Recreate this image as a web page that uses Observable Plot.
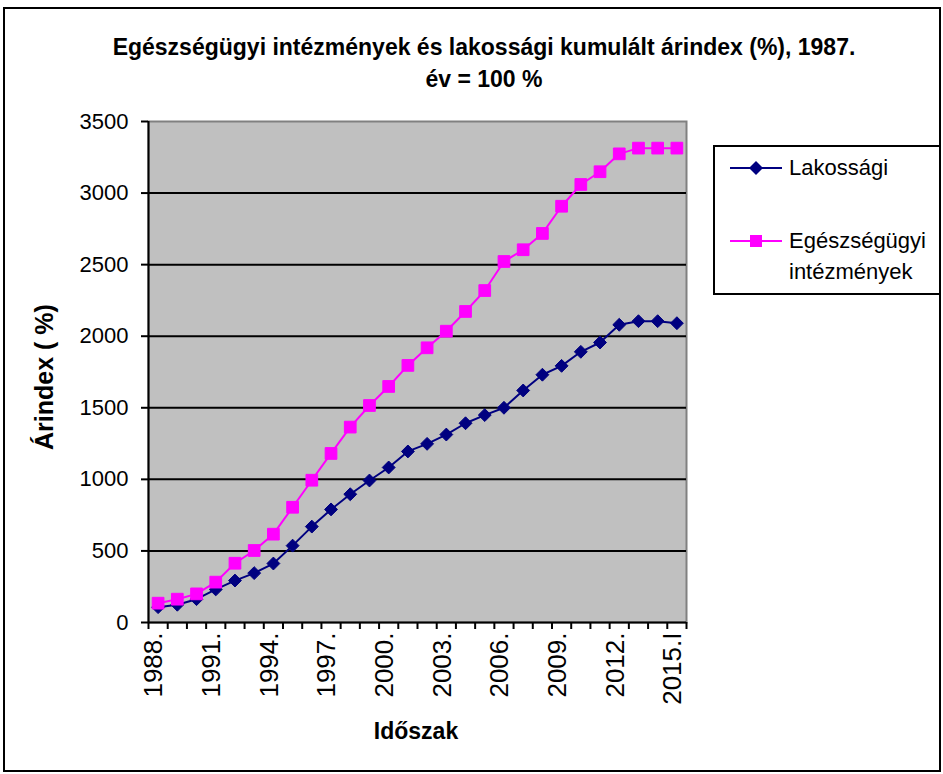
<!DOCTYPE html>
<html><head><meta charset="utf-8">
<script src="https://cdn.jsdelivr.net/npm/d3@7"></script>
<script src="https://cdn.jsdelivr.net/npm/@observablehq/plot@0.6"></script>
<style>
body{margin:0;background:#fff;font-family:"Liberation Sans",Arial,sans-serif;}
#wrap{position:relative;width:943px;height:774px;overflow:hidden;background:#fff}
#border{position:absolute;left:3px;top:7px;width:934px;height:761px;border:2px solid #000;box-sizing:content-box}
#chart{position:absolute;left:0;top:0}
#title{position:absolute;left:0;top:31px;width:968px;text-align:center;font-weight:bold;font-size:23px;line-height:32px;color:#000}
#ylab{position:absolute;left:44px;top:377px;transform:translate(-50%,-50%) rotate(-90deg);font-weight:bold;font-size:25px;white-space:nowrap}
#xlab{position:absolute;left:416px;top:731px;transform:translate(-50%,-50%);font-weight:bold;font-size:23px;white-space:nowrap}
#legend{position:absolute;left:713px;top:145px;width:224px;height:146px;border:2px solid #000;background:#fff}
.lg{position:absolute;left:0;font-size:22px;line-height:31px;white-space:nowrap}
</style></head><body>
<div id="wrap">
  <div id="border"></div>
  <div id="chart"></div>
  <div id="title">Egészségügyi intézmények és lakossági kumulált árindex (%), 1987.<br>év = 100 %</div>
  <div id="ylab">Árindex ( %)</div>
  <div id="xlab">Időszak</div>
  <div id="legend"></div>
</div>
<script>
const categories = ["1988.","1989.","1990.","1991.","1992.","1993.","1994.","1995.","1996.","1997.","1998.","1999.","2000.","2001.","2002.","2003.","2004.","2005.","2006.","2007.","2008.","2009.","2010.","2011.","2012.","2013.","2014.","2015.I"];
const lakossagi = [107,124,163,231,293,345,412,537,670,790,896,992,1083,1195,1248,1313,1392,1449,1500,1621,1731,1793,1891,1956,2080,2105,2105,2091];
const egeszsegugyi = [135,163,200,282,414,503,617,805,994,1181,1365,1516,1649,1796,1919,2035,2173,2319,2522,2604,2718,2908,3060,3149,3274,3314,3314,3314];
const yTicks = [0,500,1000,1500,2000,2500,3000,3500];
const xTickLabels = ["1988.","1991.","1994.","1997.","2000.","2003.","2006.","2009.","2012.","2015.I"];
const seriesNames = ["Lakossági","Egészségügyi intézmények"];
const seriesColors = ["#000080","#ff00ff"];

const rows = categories.map((c,i)=>({x:i+0.5, cat:c, lak:lakossagi[i], eg:egeszsegugyi[i]}));
const labelPos = xTickLabels.map(l=>categories.indexOf(l)+0.5);

const chart = Plot.plot({
  width:943, height:774,
  marginLeft:148, marginRight:257, marginTop:121, marginBottom:152,
  style:{fontFamily:"Liberation Sans, Arial, sans-serif", background:"transparent", color:"#000"},
  x:{type:"linear", domain:[0,categories.length]},
  y:{domain:[0,3500]},
  marks:[
    Plot.frame({fill:"#c0c0c0", stroke:"#808080", strokeWidth:2}),
    Plot.ruleY(yTicks.filter(v=>v>0 && v<3500), {stroke:"#000", strokeWidth:2}),
    Plot.ruleX([0],{stroke:"#000",strokeWidth:2}),
    Plot.ruleY([0],{stroke:"#000",strokeWidth:2}),
    Plot.axisY({ticks:yTicks, tickSize:7, tickPadding:13, fontSize:22, label:null, tickFormat:d=>String(d), strokeWidth:2}),
    Plot.axisX({ticks:d3.range(categories.length+1), tickSize:7, tickFormat:()=> "", label:null, strokeWidth:2}),
    Plot.axisX({ticks:labelPos, tickSize:0, tickPadding:10, tickRotate:-90, fontSize:26, label:null, dx:-4, tickFormat:d=>categories[Math.floor(d)]}),
    Plot.line(rows,{x:"x",y:"lak",stroke:seriesColors[0],strokeWidth:2}),
    Plot.dot(rows,{x:"x",y:"lak",symbol:"diamond2",r:5.8,fill:seriesColors[0],stroke:seriesColors[0],strokeWidth:1}),
    Plot.line(rows,{x:"x",y:"eg",stroke:seriesColors[1],strokeWidth:2}),
    Plot.dot(rows,{x:"x",y:"eg",symbol:"square",r:6.6,fill:seriesColors[1],stroke:seriesColors[1],strokeWidth:1})
  ]
});
document.getElementById("chart").appendChild(chart);

// legend
const lg = document.getElementById("legend");
const ns = "http://www.w3.org/2000/svg";
const sw = document.createElementNS(ns,"svg");
sw.setAttribute("width",80); sw.setAttribute("height",146);
sw.style.position="absolute"; sw.style.left="0"; sw.style.top="0";
[[21,0],[94,1]].forEach(([cy,k])=>{
  const l=document.createElementNS(ns,"line");
  l.setAttribute("x1",15);l.setAttribute("x2",67);l.setAttribute("y1",cy);l.setAttribute("y2",cy);
  l.setAttribute("stroke",seriesColors[k]);l.setAttribute("stroke-width",2);sw.appendChild(l);
  const m=document.createElementNS(ns,"path");
  if(k===0) m.setAttribute("d",`M41,${cy-7}L48,${cy}L41,${cy+7}L34,${cy}Z`);
  else m.setAttribute("d",`M35,${cy-6}h12v12h-12Z`);
  m.setAttribute("fill",seriesColors[k]);sw.appendChild(m);
});
lg.appendChild(sw);
const t1=document.createElement("div");t1.className="lg";t1.style.left="74px";t1.style.top="5px";t1.textContent=seriesNames[0];lg.appendChild(t1);
const t2=document.createElement("div");t2.className="lg";t2.style.left="74px";t2.style.top="78px";t2.innerHTML="Egészségügyi<br>intézmények";lg.appendChild(t2);
</script>
</body></html>
